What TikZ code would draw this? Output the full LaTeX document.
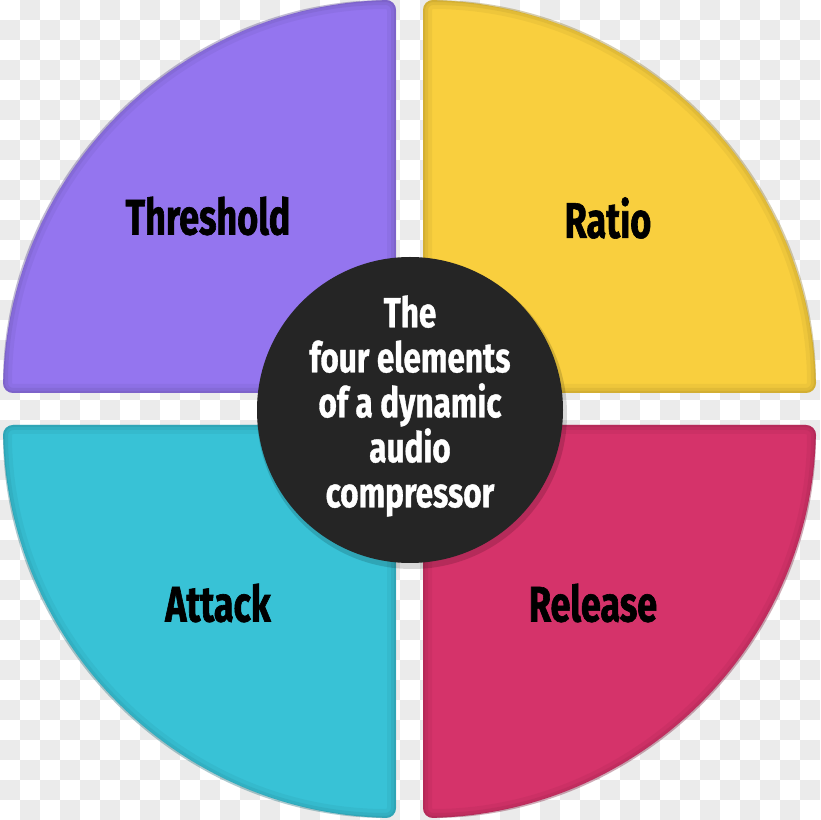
\documentclass[tikz,border=0pt]{standalone}
\usepackage{fontspec}
\newfontfamily\condfont[FakeStretch=0.72,FakeBold=1.2]{Fira Sans Bold}
\newfontfamily\condfontc[FakeStretch=0.75,FakeBold=0.8]{Fira Sans Bold}
\definecolor{cpurple}{HTML}{9475EF}
\definecolor{cyellow}{HTML}{F9CF3E}
\definecolor{ccyan}{HTML}{38C2D6}
\definecolor{cpink}{HTML}{D5336A}
\definecolor{cdark}{HTML}{252525}
\definecolor{cchk}{HTML}{EBEBEB}
\tikzset{
  lab/.style={font=\condfont\fontsize{50}{54}\selectfont, text=black, inner sep=0pt},
  ctext/.style={font=\condfontc\fontsize{42}{45}\selectfont, text=white, align=center, inner sep=0pt},
}
\newcommand\quadrant[2]{%
  \begin{scope}
    \clip[rounded corners=10] #1;
    \fill[#2] #1;
    \draw[line width=18, #2!60!black, opacity=0.10, rounded corners=10] #1;
    \draw[line width=10, #2!60!black, opacity=0.14, rounded corners=10] #1;
    \draw[line width=4, #2!60!black, opacity=0.18, rounded corners=10] #1;
  \end{scope}}
\begin{document}
\begin{tikzpicture}[x=1pt,y=1pt]
\useasboundingbox (0,0) rectangle (820,820);
\fill[white] (0,0) rectangle (820,820);
\foreach \i in {0,...,40}{\foreach \j in {0,...,40}{
  \pgfmathparse{int(mod(\i+\j,2))}
  \ifnum\pgfmathresult=1
    \fill[cchk] (20*\i,820-20*\j) rectangle ++(20,-20);
  \fi}}
\quadrant{(396,427) -- (3,427) arc[start angle=180,end angle=90,radius=393] -- cycle}{cpurple}
\quadrant{(423,427) -- (816,427) arc[start angle=0,end angle=90,radius=393] -- cycle}{cyellow}
\quadrant{(396,395) -- (3,395) arc[start angle=180,end angle=270,radius=393] -- cycle}{ccyan}
\quadrant{(423,395) -- (816,395) arc[start angle=0,end angle=-90,radius=393] -- cycle}{cpink}
\fill[black, opacity=0.15] (412,406) circle[radius=155];
\node[circle, fill=cdark, minimum size=306, inner sep=0pt] (ctr) at (410,410) {};
\node[ctext] (ctxt) at (410,414) {The\\four elements\\of a dynamic\\audio\\compressor};
\node[lab] (thr) at (208,604) {Threshold};
\node[lab] (rat) at (608,602) {Ratio};
\node[lab] (att) at (218,217) {Attack};
\node[lab] (rel) at (593,217) {Release};
\end{tikzpicture}
\end{document}
